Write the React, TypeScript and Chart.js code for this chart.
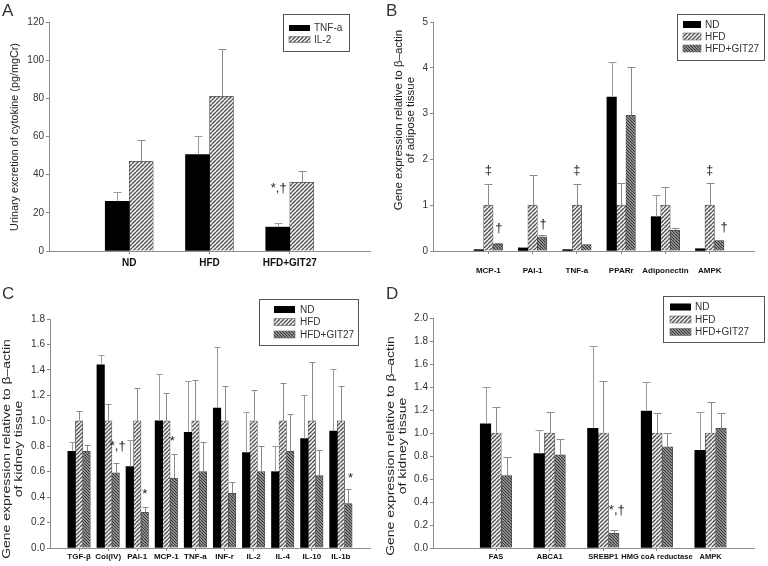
import React, { useEffect, useRef } from 'react';
import { Chart, registerables } from 'chart.js';

Chart.register(...registerables);

const FONT = "'Liberation Sans', Arial, Helvetica, sans-serif";
Chart.defaults.font.family = FONT;

const W = 384;
const H = 283;

// ---------------- Panel A ----------------
const aCategories = ['ND', 'HFD', 'HFD+GIT27'];
const aSeries = ['TNF-a', 'IL-2'];
const aTnf = [26, 50.5, 12.5];
const aTnfSd = [5, 10, 2];
const aIl2 = [47, 81, 36];
const aIl2Sd = [11, 25, 6];
const aTicks = { max: 120, step: 20, decimals: 0 };
const aTitle = ['Urinary excretion of cytokine (pg/mgCr)'];
const aMarks = [{ cat: 2, series: 0, value: 33, text: '*,†', dx: 1 }];

// ---------------- Panel B ----------------
const bCategories = ['MCP-1', 'PAI-1', 'TNF-a', 'PPARr', 'Adiponectin', 'AMPK'];
const bSeries = ['ND', 'HFD', 'HFD+GIT27'];
const bNd = [0.03, 0.07, 0.03, 3.36, 0.75, 0.05];
const bNdSd = [0, 0.02, 0, 0.77, 0.48, 0];
const bHfd = [1, 1, 1, 1, 1, 1];
const bHfdSd = [0.47, 0.67, 0.47, 0.49, 0.39, 0.49];
const bGit = [0.15, 0.31, 0.14, 2.96, 0.45, 0.23];
const bGitSd = [0.02, 0.04, 0.01, 1.06, 0.06, 0.02];
const bTicks = { max: 5, step: 1, decimals: 0 };
const bTitle = ['Gene expression relative to β–actin', 'of adipose tissue'];
const bMarks = [
  { cat: 0, series: 1, value: 1.75, text: '‡', dx: 0 },
  { cat: 2, series: 1, value: 1.75, text: '‡', dx: 0 },
  { cat: 5, series: 1, value: 1.75, text: '‡', dx: 0 },
  { cat: 0, series: 2, value: 0.5, text: '†', dx: 1 },
  { cat: 1, series: 2, value: 0.58, text: '†', dx: 1 },
  { cat: 5, series: 2, value: 0.52, text: '†', dx: 5 },
];

// ---------------- Panel C ----------------
const cCategories = ['TGF-β', 'Col(IV)', 'PAI-1', 'MCP-1', 'TNF-a', 'INF-r', 'IL-2', 'IL-4', 'IL-10', 'IL-1b'];
const cSeries = ['ND', 'HFD', 'HFD+GIT27'];
const cNd = [0.76, 1.44, 0.64, 1.0, 0.91, 1.1, 0.75, 0.6, 0.86, 0.92];
const cNdSd = [0.07, 0.08, 0.21, 0.37, 0.4, 0.48, 0.32, 0.2, 0.34, 0.49];
const cHfd = [1, 1, 1, 1, 1, 1, 1, 1, 1, 1];
const cHfdSd = [0.08, 0.13, 0.26, 0.22, 0.32, 0.27, 0.24, 0.3, 0.46, 0.27];
const cGit = [0.76, 0.59, 0.28, 0.55, 0.6, 0.43, 0.6, 0.76, 0.57, 0.35];
const cGitSd = [0.05, 0.08, 0.04, 0.19, 0.23, 0.09, 0.2, 0.29, 0.2, 0.11];
const cTicks = { max: 1.8, step: 0.2, decimals: 1 };
const cTitle = ['Gene expression relative to β–actin', 'of kidney tissue'];
const cMarks = [
  { cat: 1, series: 2, value: 0.8, text: '*,†', dx: 2 },
  { cat: 2, series: 2, value: 0.42, text: '*', dx: 0 },
  { cat: 3, series: 1, value: 0.84, text: '*', dx: 6 },
  { cat: 9, series: 2, value: 0.55, text: '*', dx: 2 },
];

// ---------------- Panel D ----------------
const dCategories = ['FAS', 'ABCA1', 'SREBP1', 'HMG coA reductase', 'AMPK'];
const dSeries = ['ND', 'HFD', 'HFD+GIT27'];
const dNd = [1.08, 0.82, 1.04, 1.19, 0.85];
const dNdSd = [0.32, 0.21, 0.72, 0.25, 0.33];
const dHfd = [1, 1, 1, 1, 1];
const dHfdSd = [0.23, 0.18, 0.45, 0.17, 0.27];
const dGit = [0.63, 0.81, 0.13, 0.88, 1.04];
const dGitSd = [0.16, 0.14, 0.03, 0.12, 0.13];
const dTicks = { max: 2.0, step: 0.2, decimals: 1 };
const dTitle = ['Gene expression relative to β–actin', 'of kidney tissue'];
const dMarks = [{ cat: 2, series: 2, value: 0.33, text: '*,†', dx: 3 }];

type Mark = { cat: number; series: number; value: number; text: string; dx: number };

interface Panel {
  letter: string;
  left: number;
  top: number;
  categories: string[];
  seriesNames: string[];
  values: number[][];
  errors: number[][];
  ticks: { max: number; step: number; decimals: number };
  xMin: number;
  xMax: number;
  area: { left: number; right: number; top: number; bottom: number };
  barThickness: number;
  capWidth: number;
  legend: { x: number; y: number; w: number; h: number; rowY: number[]; swatchX: number; swatchW: number; swatchH: number; textX: number };
  title: string[];
  titleX: number[];
  titleY: number;
  titleSize: number;
  titleSqueeze: number;
  catSize: number;
  catPad: number;
  marks: Mark[];
}

const panels: Panel[] = [
  {
    letter: 'A', left: 0, top: 0,
    categories: aCategories, seriesNames: aSeries,
    values: [aTnf, aIl2], errors: [aTnfSd, aIl2Sd],
    ticks: aTicks, xMin: 0, xMax: 4,
    area: { left: 49, right: 370, top: 22, bottom: 251 },
    barThickness: 24, capWidth: 8,
    legend: { x: 283, y: 14, w: 66, h: 37, rowY: [28, 39.5], swatchX: 289, swatchW: 21, swatchH: 6, textX: 314 },
    title: aTitle, titleX: [15], titleY: 137, titleSize: 10.8, titleSqueeze: 1,
    catSize: 10, catPad: 3,
    marks: aMarks,
  },
  {
    letter: 'B', left: 384, top: 0,
    categories: bCategories, seriesNames: bSeries,
    values: [bNd, bHfd, bGit], errors: [bNdSd, bHfdSd, bGitSd],
    ticks: bTicks, xMin: -0.25, xMax: 7,
    area: { left: 49, right: 370, top: 22, bottom: 251 },
    barThickness: 9.5, capWidth: 8,
    legend: { x: 293, y: 14, w: 87, h: 46, rowY: [24.5, 36.5, 48.5], swatchX: 299, swatchW: 18, swatchH: 7, textX: 321 },
    title: bTitle, titleX: [15, 27], titleY: 120, titleSize: 11.5, titleSqueeze: 1,
    catSize: 8, catPad: 12,
    marks: bMarks,
  },
  {
    letter: 'C', left: 0, top: 283,
    categories: cCategories, seriesNames: cSeries,
    values: [cNd, cHfd, cGit], errors: [cNdSd, cHfdSd, cGitSd],
    ticks: cTicks, xMin: 0, xMax: 11,
    area: { left: 50, right: 370, top: 36, bottom: 265 },
    barThickness: 7.5, capWidth: 6,
    legend: { x: 259, y: 16, w: 99, h: 46, rowY: [26.5, 39, 51.5], swatchX: 274, swatchW: 21, swatchH: 7, textX: 300 },
    title: cTitle, titleX: [7, 19], titleY: 166, titleSize: 14, titleSqueeze: 0.75,
    catSize: 8, catPad: 1,
    marks: cMarks,
  },
  {
    letter: 'D', left: 384, top: 283,
    categories: dCategories, seriesNames: dSeries,
    values: [dNd, dHfd, dGit], errors: [dNdSd, dHfdSd, dGitSd],
    ticks: dTicks, xMin: -0.175, xMax: 5.81,
    area: { left: 49, right: 370, top: 35, bottom: 265 },
    barThickness: 10.5, capWidth: 8,
    legend: { x: 279, y: 13, w: 101, h: 46, rowY: [24, 36.5, 49], swatchX: 286, swatchW: 21, swatchH: 7, textX: 311 },
    title: dTitle, titleX: [7, 19], titleY: 163, titleSize: 14, titleSqueeze: 0.75,
    catSize: 7.5, catPad: 1,
    marks: dMarks,
  },
];

function hatch(ctx: CanvasRenderingContext2D, bg: string, fg: string, dir: '/' | '\\', size: number, lw: number) {
  const c = document.createElement('canvas');
  c.width = size;
  c.height = size;
  const g = c.getContext('2d')!;
  g.fillStyle = bg;
  g.fillRect(0, 0, size, size);
  g.strokeStyle = fg;
  g.lineWidth = lw;
  g.beginPath();
  for (let k = -1; k <= 1; k++) {
    if (dir === '/') {
      g.moveTo(k * size, size);
      g.lineTo(k * size + size, 0);
    } else {
      g.moveTo(k * size, 0);
      g.lineTo(k * size + size, size);
    }
  }
  g.stroke();
  return ctx.createPattern(c, 'repeat') as CanvasPattern;
}

function makeDecor(p: Panel) {
  return {
    id: 'decor' + p.letter,
    afterDatasetsDraw(chart: any) {
      const ctx: CanvasRenderingContext2D = chart.ctx;
      const ys = chart.scales.y;
      ctx.save();
      chart.data.datasets.forEach((_ds: any, si: number) => {
        const meta = chart.getDatasetMeta(si);
        meta.data.forEach((el: any, ci: number) => {
          const v = p.values[si][ci];
          const e = p.errors[si][ci];
          if (v == null || !e) return;
          const x = Math.round(el.x) + 0.5;
          const y1 = Math.round(ys.getPixelForValue(v + e)) + 0.5;
          ctx.strokeStyle = si === 0 ? '#9a9a9a' : '#8a8a8a';
          ctx.lineWidth = 1;
          ctx.beginPath();
          ctx.moveTo(x, el.y);
          ctx.lineTo(x, y1);
          ctx.moveTo(x - p.capWidth / 2, y1);
          ctx.lineTo(x + p.capWidth / 2, y1);
          ctx.stroke();
        });
      });
      ctx.fillStyle = '#222';
      ctx.textAlign = 'center';
      ctx.textBaseline = 'middle';
      ctx.font = `13px ${FONT}`;
      p.marks.forEach((m) => {
        const el = chart.getDatasetMeta(m.series).data[m.cat];
        if (!el) return;
        ctx.fillText(m.text, el.x + m.dx, ys.getPixelForValue(m.value));
      });
      ctx.restore();
    },
    afterDraw(chart: any) {
      const ctx: CanvasRenderingContext2D = chart.ctx;
      ctx.save();
      const L = p.legend;
      ctx.fillStyle = '#fff';
      ctx.fillRect(L.x, L.y, L.w, L.h);
      ctx.strokeStyle = '#555';
      ctx.lineWidth = 1;
      ctx.strokeRect(L.x + 0.5, L.y + 0.5, L.w, L.h);
      chart.data.datasets.forEach((ds: any, i: number) => {
        const cy = L.rowY[i];
        ctx.fillStyle = ds.backgroundColor;
        ctx.fillRect(L.swatchX, cy - L.swatchH / 2, L.swatchW, L.swatchH);
        if (i > 0) {
          ctx.strokeStyle = '#666';
          ctx.lineWidth = 0.6;
          ctx.strokeRect(L.swatchX, cy - L.swatchH / 2, L.swatchW, L.swatchH);
        }
        ctx.fillStyle = '#333';
        ctx.font = `10px ${FONT}`;
        ctx.textAlign = 'left';
        ctx.textBaseline = 'middle';
        ctx.fillText(ds.label, L.textX, cy + 0.5);
      });
      ctx.fillStyle = '#222';
      ctx.font = `${p.titleSize}px ${FONT}`;
      ctx.textAlign = 'center';
      ctx.textBaseline = 'middle';
      p.title.forEach((line, i) => {
        ctx.save();
        ctx.translate(p.titleX[i], p.titleY);
        ctx.rotate(-Math.PI / 2);
        ctx.scale(1, p.titleSqueeze);
        ctx.fillText(line, 0, 0);
        ctx.restore();
      });
      ctx.fillStyle = '#333';
      ctx.font = `17px ${FONT}`;
      ctx.textAlign = 'left';
      ctx.textBaseline = 'alphabetic';
      ctx.fillText(p.letter, 2, 16);
      ctx.restore();
    },
  };
}

function PanelChart({ p }: { p: Panel }) {
  const ref = useRef<HTMLCanvasElement | null>(null);
  useEffect(() => {
    const canvas = ref.current!;
    const ctx = canvas.getContext('2d')!;
    const fills: any[] = p.seriesNames.length === 2
      ? ['#000000', hatch(ctx, '#f2f2f2', '#555555', '/', 4, 1.4)]
      : ['#000000', hatch(ctx, '#f2f2f2', '#555555', '/', 4, 1.4), hatch(ctx, '#a8a8a8', '#333333', '\\', 3, 1.1)];
    const borders = ['#000000', '#555555', '#444444'];
    const datasets = p.seriesNames.map((name, si) => ({
      label: name,
      data: p.values[si].map((v, ci) => ({ x: ci + 1, y: v })),
      backgroundColor: fills[si],
      borderColor: borders[si],
      borderWidth: si === 0 ? 0 : 0.7,
      barThickness: p.barThickness,
    }));
    const chart = new Chart(canvas, {
      type: 'bar',
      data: { datasets } as any,
      plugins: [makeDecor(p)],
      options: {
        animation: false,
        responsive: false,
        events: [],
        layout: { padding: { left: 0, top: p.area.top, right: W - p.area.right, bottom: 0 } },
        plugins: { legend: { display: false }, tooltip: { enabled: false }, title: { display: false } },
        scales: {
          x: {
            type: 'linear',
            offset: false,
            min: p.xMin,
            max: p.xMax,
            afterBuildTicks: (s: any) => {
              s.ticks = p.categories.map((_c, i) => ({ value: i + 1 }));
            },
            afterFit: (s: any) => {
              s.height = H - p.area.bottom;
            },
            ticks: {
              autoSkip: false,
              maxRotation: 0,
              minRotation: 0,
              padding: p.catPad,
              color: '#111',
              font: { size: p.catSize, weight: 'bold', family: FONT },
              callback: (v: any) => p.categories[Math.round(Number(v)) - 1] ?? '',
            },
            grid: { display: true, offset: false, drawOnChartArea: false, tickLength: 3, color: '#888' },
            border: { display: true, color: '#8c8c8c', width: 1 },
          },
          y: {
            type: 'linear',
            min: 0,
            max: p.ticks.max,
            afterFit: (s: any) => {
              s.width = p.area.left;
            },
            ticks: {
              stepSize: p.ticks.step,
              padding: 2,
              color: '#333',
              font: { size: 10, family: FONT },
              callback: (v: any) => Number(v).toFixed(p.ticks.decimals),
            },
            grid: { display: true, drawOnChartArea: false, tickLength: 3, color: '#888' },
            border: { display: true, color: '#8c8c8c', width: 1 },
          },
        },
      } as any,
    });
    return () => chart.destroy();
  }, [p]);
  return (
    <canvas
      ref={ref}
      width={W}
      height={H}
      style={{ position: 'absolute', left: p.left, top: p.top, width: W, height: H, display: 'block' }}
    />
  );
}

export default function App() {
  return (
    <div style={{ position: 'absolute', left: 0, top: 0, width: 768, height: 566, background: '#fff', overflow: 'hidden' }}>
      {panels.map((p) => (
        <PanelChart key={p.letter} p={p} />
      ))}
    </div>
  );
}
